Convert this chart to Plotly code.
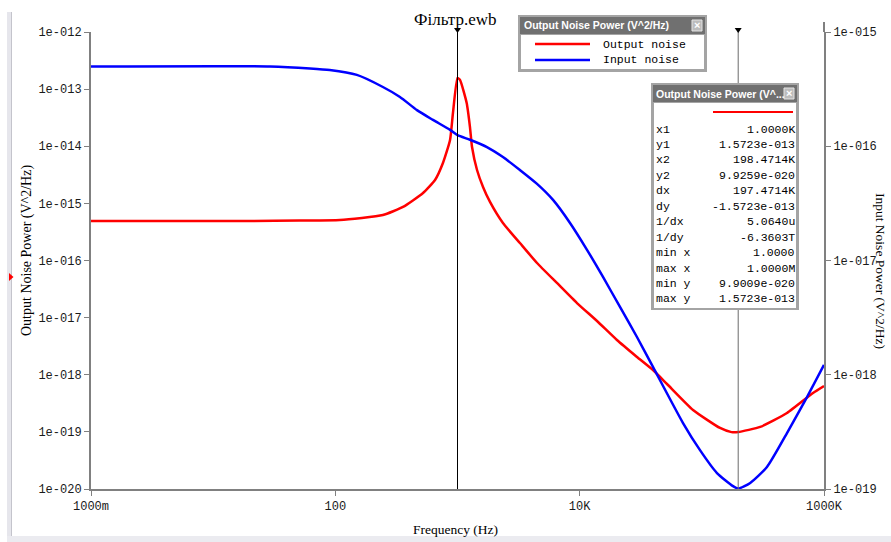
import plotly.graph_objects as go

# Output noise spectral density (V^2/Hz) against frequency (Hz)
out_freq = [1, 7.8, 20, 51, 109, 245, 358, 522, 655, 760, 869, 918, 1000, 1048, 1189,
            1265, 1315, 1445, 1618, 1845, 2355, 3243, 4477, 6516, 9506, 13868, 20184,
            29444, 39811, 51880, 84723, 140929, 175000, 198471.4, 300608, 497737, 812831, 1e6]
out_noise = [4.91e-16, 4.91e-16, 4.91e-16, 5.01e-16, 5.12e-16, 6.25e-16, 8.65e-16, 1.52e-15,
             2.57e-15, 5.09e-15, 1.29e-14, 3.82e-14, 1.5723e-13, 1.45e-13, 5.71e-14, 2.17e-14,
             9.70e-15, 3.84e-15, 1.94e-15, 1.06e-15, 4.53e-16, 2.02e-16, 9.04e-17, 4.04e-17,
             1.80e-17, 8.73e-18, 4.06e-18, 2.05e-18, 1.21e-18, 6.89e-19, 2.42e-19, 1.17e-19,
             9.9009e-20, 9.9259e-20, 1.22e-19, 2.14e-19, 4.79e-19, 6.35e-19]

# Input-referred noise (V^2/Hz) against frequency (Hz)
in_freq = [1, 29.2, 62, 90, 150, 245, 338, 466, 630, 869, 1000, 1265, 1742, 2355, 3243, 4477,
           6053, 8337, 11482, 15524, 21380, 29444, 39811, 70146, 96605, 133045,
           179887, 198471.4, 248886, 341193, 497737, 726106, 1e6]
in_noise = [4.99e-16, 4.99e-16, 4.80e-16, 4.65e-16, 4.21e-16, 3.30e-16, 2.70e-16, 2.07e-16,
            1.70e-16, 1.39e-16, 1.25e-16, 1.14e-16, 9.84e-17, 8.05e-17, 6.19e-17, 4.68e-17,
            3.39e-17, 2.13e-17, 1.24e-17, 7.18e-18, 3.92e-18, 2.14e-18, 1.17e-18, 3.78e-19,
            2.19e-19, 1.38e-19, 1.06e-19, 1.01e-19, 1.13e-19, 1.56e-19, 3.09e-19, 6.38e-19,
            1.22e-18]

# Axis ticks
x_tickvals = [1, 100, 1e4, 1e6]
x_ticktext = ["1000m", "100", "10K", "1000K"]
y1_tickvals = [1e-12, 1e-13, 1e-14, 1e-15, 1e-16, 1e-17, 1e-18, 1e-19, 1e-20]
y1_ticktext = ["1e-012", "1e-013", "1e-014", "1e-015", "1e-016", "1e-017", "1e-018", "1e-019", "1e-020"]
y2_tickvals = [1e-15, 1e-16, 1e-17, 1e-18, 1e-19]
y2_ticktext = ["1e-015", "1e-016", "1e-017", "1e-018", "1e-019"]

# Cursor positions (Hz) and readout
cursor1 = 1000.0
cursor2 = 198471.4
readout_labels = ["x1", "y1", "x2", "y2", "dx", "dy", "1/dx", "1/dy", "min x", "max x", "min y", "max y"]
readout_values = ["1.0000K", "1.5723e-013", "198.4714K", "9.9259e-020", "197.4714K", "-1.5723e-013",
                  "5.0640u", "-6.3603T", "1.0000", "1.0000M", "9.9009e-020", "1.5723e-013"]

W, H = 891, 542
L, R, T, B = 91, 67, 32, 53
PW, PH = W - L - R, H - T - B


def px(x):
    return (x - L) / PW


def py(y):
    return (H - B - y) / PH


MONO = "Courier New, Liberation Mono, monospace"
SERIF = "Liberation Serif, Times New Roman, serif"
SANS = "Liberation Sans, Arial, sans-serif"
AXIS_GRAY = "#808080"

fig = go.Figure()
fig.add_trace(go.Scatter(x=out_freq, y=out_noise, mode="lines", name="Output noise",
                         line=dict(color="#ff0000", width=2.5, shape="spline", smoothing=0.5),
                         yaxis="y"))
fig.add_trace(go.Scatter(x=in_freq, y=in_noise, mode="lines", name="Input noise",
                         line=dict(color="#0000ff", width=2.5, shape="spline", smoothing=0.6),
                         yaxis="y2"))

shapes = []


def rect(x0, y0, x1, y1, fill, line_color=None, lw=0):
    shapes.append(dict(type="rect", xref="paper", yref="paper",
                       x0=px(x0), x1=px(x1), y0=py(y1), y1=py(y0),
                       fillcolor=fill, line=dict(color=line_color or fill, width=lw), layer="above"))


def hline(x0, x1, y, color, w):
    shapes.append(dict(type="line", xref="paper", yref="paper", x0=px(x0), x1=px(x1),
                       y0=py(y), y1=py(y), line=dict(color=color, width=w), layer="above"))


# window frame
rect(7, 12, 12, 542, "#e6e6ec")
shapes.append(dict(type="line", xref="paper", yref="paper", x0=px(11.5), x1=px(11.5),
                   y0=py(542), y1=py(12), line=dict(color="#c4c4cc", width=1)))
rect(7, 536, 891, 542, "#ebebf0")
# marker on the frame
shapes.append(dict(type="path", xref="paper", yref="paper",
                   path=f"M {px(9)},{py(273)} L {px(13.5)},{py(277)} L {px(9)},{py(281)} Z",
                   fillcolor="#ff0000", line=dict(color="#ff0000", width=0)))
# right axis extends a little above the top tick
shapes.append(dict(type="line", xref="paper", yref="paper", x0=1, x1=1, y0=1, y1=py(22),
                   line=dict(color=AXIS_GRAY, width=2)))

# cursors
for cx, col in ((cursor1, "#000000"), (cursor2, "#6a6a6a")):
    shapes.append(dict(type="line", xref="x", yref="paper", x0=cx, x1=cx, y0=0, y1=py(30),
                       line=dict(color=col, width=1)))
    shapes.append(dict(type="path", xref="x", yref="paper", xsizemode="pixel", xanchor=cx,
                       ysizemode="pixel", yanchor=py(28), path="M -3.5,0 L 3.5,0 L 0,-5 Z",
                       fillcolor="#000000", line=dict(color="#000000", width=0)))

# legend window
rect(518, 15, 707, 72, "#a4a4a4")
rect(520, 17, 705, 34, "#707070")
rect(521, 35, 704, 69, "#ffffff")
rect(692, 20, 702, 31, "#bcbcbc", "#e4e4e4", 1)
hline(535, 590, 44, "#ff0000", 2.5)
hline(535, 590, 60, "#0000ff", 2.5)

# cursor readout window
rect(651, 83, 799, 310, "#a4a4a4")
rect(653, 85, 797, 102, "#707070")
rect(654, 103, 796, 308, "#ffffff")
rect(784, 88, 794, 99, "#bcbcbc", "#e4e4e4", 1)
hline(713, 793, 112, "#ff0000", 2)

annotations = []


def text(x, y, s, font, anchor="left", angle=0):
    annotations.append(dict(x=px(x), y=py(y), xref="paper", yref="paper", text=s, showarrow=False,
                            xanchor=anchor, yanchor="middle", font=font, textangle=angle,
                            borderpad=0))


text(455, 20, "Фільтр.ewb", dict(family=SERIF, size=17, color="#000000"), "center")
text(27, 251, "Output Noise Power (V^2/Hz)", dict(family=SERIF, size=14, color="#000000"), "center", -90)
text(881, 271, "Input Noise Power (V^2/Hz)", dict(family=SERIF, size=13.5, color="#000000"), "center", 90)
text(455, 529, "Frequency (Hz)", dict(family=SERIF, size=13.5, color="#000000"), "center")

title_font = dict(family=SANS, size=10.5, color="#ffffff", weight="bold")
close_font = dict(family=SANS, size=11, color="#ffffff", weight="bold")
mono_font = dict(family=MONO, size=11.5, color="#000000")

text(523, 25.5, "Output Noise Power (V^2/Hz)", title_font)
text(697, 25.5, "×", close_font, "center")
text(602, 44, "Output noise", mono_font)
text(602, 60, "Input noise", mono_font)

text(655, 94, "Output Noise Power (V^...", title_font)
text(789, 93.5, "×", close_font, "center")
for i, (lab, val) in enumerate(zip(readout_labels, readout_values)):
    yy = 129 + i * 15.45
    text(655, yy, lab, mono_font)
    text(796, yy, val, mono_font, "right")

axis_common = dict(type="log", showgrid=False, zeroline=False, showline=True,
                   linecolor=AXIS_GRAY, linewidth=2, ticks="outside", ticklen=5,
                   tickcolor=AXIS_GRAY, tickwidth=1,
                   tickfont=dict(family=MONO, size=12, color="#1a1a1a"))

fig.update_layout(
    width=W, height=H, autosize=False,
    margin=dict(l=L, r=R, t=T, b=B, pad=0),
    paper_bgcolor="#ffffff", plot_bgcolor="#ffffff",
    showlegend=False,
    xaxis=dict(range=[0, 6], tickvals=x_tickvals, ticktext=x_ticktext, **axis_common),
    yaxis=dict(range=[-20, -12], tickvals=y1_tickvals, ticktext=y1_ticktext, side="left", **axis_common),
    yaxis2=dict(range=[-19, -15], tickvals=y2_tickvals, ticktext=y2_ticktext, side="right",
                overlaying="y", **axis_common),
    shapes=shapes,
    annotations=annotations,
)

fig.write_html("out.html")
